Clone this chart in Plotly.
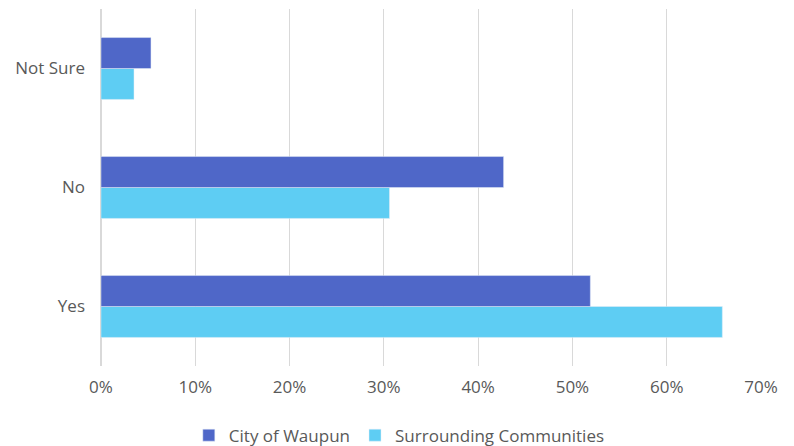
import plotly.graph_objects as go

categories = ["Yes", "No", "Not Sure"]
city_waupun = [51.9, 42.7, 5.3]
surrounding = [65.9, 30.6, 3.5]
x_ticks = [0, 10, 20, 30, 40, 50, 60, 70]
x_tick_labels = ["0%", "10%", "20%", "30%", "40%", "50%", "60%", "70%"]

fig = go.Figure()
fig.add_trace(go.Bar(y=categories, x=surrounding, orientation="h",
                     name="Surrounding Communities", marker_color="#5ECDF3"))
fig.add_trace(go.Bar(y=categories, x=city_waupun, orientation="h",
                     name="City of Waupun", marker_color="#4F67C8"))

fig.update_layout(
    width=794, height=446,
    margin=dict(l=93, r=41, t=1, b=88, autoexpand=False),
    barmode="group", bargap=0.48, bargroupgap=0,
    plot_bgcolor="white", paper_bgcolor="white",
    font=dict(family="Open Sans", size=17, color="#595959"),
    xaxis=dict(range=[0, 70], tickvals=x_ticks, ticktext=x_tick_labels,
               showgrid=True, gridcolor="#D9D9D9", gridwidth=1,
               zeroline=True, zerolinecolor="#D9D9D9", showline=False,
               ticks="", ticklabelstandoff=9),
    yaxis=dict(showgrid=False, zeroline=False, showline=False, ticks="",
               ticklabelstandoff=15),
    legend=dict(orientation="h", x=0.452, xanchor="center", y=-0.195, yanchor="middle",
                traceorder="reversed", itemwidth=30,
                font=dict(size=17, color="#595959")),
    showlegend=True,
)

fig.write_html("out.html")
